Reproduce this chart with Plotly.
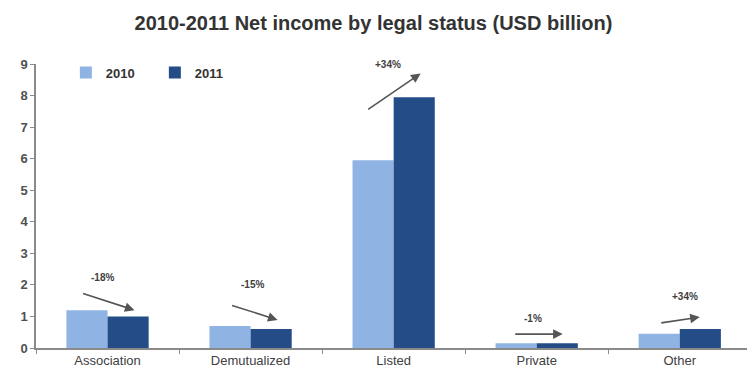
import plotly.graph_objects as go

categories = ["Association", "Demutualized", "Listed", "Private", "Other"]
values_2010 = [1.2, 0.7, 5.95, 0.15, 0.45]
values_2011 = [1.0, 0.6, 7.95, 0.15, 0.6]
change_labels = ["-18%", "-15%", "+34%", "-1%", "+34%"]
y_ticks = [0, 1, 2, 3, 4, 5, 6, 7, 8, 9]

c2010 = "#8fb4e3"
c2011 = "#244d87"
txt = "#404040"
axis_col = "#8a8a8a"

fig = go.Figure()
fig.add_trace(go.Bar(x=categories, y=values_2010, name="2010", marker_color=c2010,
                     marker_line_width=0))
fig.add_trace(go.Bar(x=categories, y=values_2011, name="2011", marker_color=c2011,
                     marker_line_width=0))

# arrows: (head y value, head xshift px, tail ax, tail ay)
arrows = [
    (1.20, 27, -53, -17),
    (0.89, 27, -47, -15),
    (8.70, 27, -54, 37),
    (0.44, 26, -49, 0),
    (0.98, 20, -40, 6),
]
labels_pos = [  # (y value, xshift)
    (2.22, -5),
    (2.00, 2),
    (8.98, -6),
    (0.95, -4),
    (1.64, 5),
]
for i, cat in enumerate(categories):
    hy, hx, ax, ay = arrows[i]
    fig.add_annotation(x=cat, y=hy, xref="x", yref="y", xshift=hx, ax=ax, ay=ay,
                       text="", showarrow=True, arrowhead=2, arrowsize=1.2,
                       arrowwidth=1.6, arrowcolor="#555555")
    ly, lx = labels_pos[i]
    fig.add_annotation(x=cat, y=ly, xref="x", yref="y", xshift=lx, text=change_labels[i],
                       showarrow=False,
                       font=dict(size=10, color=txt, family="Liberation Sans", weight="bold"))

fig.update_layout(
    width=747, height=377,
    margin=dict(l=36, r=0, t=64, b=29),
    paper_bgcolor="white", plot_bgcolor="white",
    barmode="group", bargap=0.425, bargroupgap=0,
    title=dict(text="<b>2010-2011 Net income by legal status (USD billion)</b>",
               x=0.5, xanchor="center", y=0.94, yanchor="middle",
               font=dict(size=20, color="#333333", family="Liberation Sans")),
    legend=dict(orientation="h", x=0.042, y=0.97, xanchor="left", yanchor="middle",
                font=dict(size=13, color="#333333", family="Liberation Sans", weight="bold"),
                bgcolor="rgba(0,0,0,0)", itemwidth=30, entrywidth=44,
                entrywidthmode="pixels", traceorder="normal"),
    font=dict(family="Liberation Sans", color=txt),
    showlegend=True,
)
fig.update_yaxes(range=[0, 9], tickvals=y_ticks, showgrid=False, zeroline=False,
                 showline=True, linecolor=axis_col, linewidth=1.5,
                 ticks="outside", ticklen=4, tickcolor=axis_col,
                 tickfont=dict(size=13, color="#505050", weight="bold"))
fig.update_xaxes(range=[-0.5, 4.47], showgrid=False, showline=True, linecolor=axis_col,
                 linewidth=1.5, ticks="outside", tickson="boundaries", ticklen=4,
                 tickcolor=axis_col, tickfont=dict(size=13, color=txt))

fig.write_html("out.html")
